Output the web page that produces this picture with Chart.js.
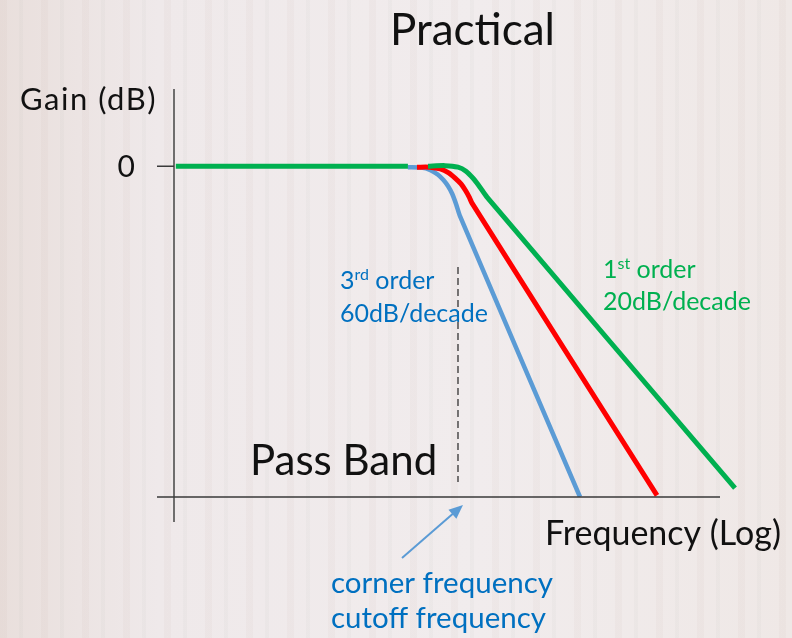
<!DOCTYPE html>
<html>
<head>
<meta charset="utf-8">
<script src="https://cdn.jsdelivr.net/npm/chart.js@4/dist/chart.umd.min.js"></script>
<style>
    html, body { margin: 0; padding: 0; }
    body {
        width: 792px; height: 638px; overflow: hidden;
        background:
            repeating-linear-gradient(90deg, rgba(180,150,140,0.06) 0 7px, rgba(255,255,255,0) 7px 19px, rgba(150,160,150,0.05) 19px 23px, rgba(255,255,255,0) 23px 41px),
            linear-gradient(90deg, #e9dfdc 0%, #efe9ea 20%, #f1eced 60%, #efe8e6 100%);
    }
    #wrap { position: relative; width: 792px; height: 638px; }
</style>
</head>
<body>
<div id="wrap"><canvas id="plot"></canvas></div>
<script>
// frequency relative to the corner (log axis), gain in dB
const cornerFreq = 1;

const firstOrderFreq = [0.0103, 0.444, 0.5, 0.615, 0.81, 1.0, 1.138, 1.275, 1.428, 1.6, 89.3];
const firstOrderGain = [0, 0, null, 0, 0.1, -0.18, -0.9, -2.18, -3.81, -5.62, -58.4];

const secondOrderFreq = [0.514, 0.635, 0.75, 0.86, 0.95, 1.05, 1.13, 1.2, 1.255, 25.2];
const secondOrderGain = [-0.18, -0.18, -0.5, -1.2, -2.1, -3.2, -4.4, -5.6, -6.7, -59.7];

const thirdOrderFreq = [0.444, 0.55, 0.64, 0.72, 0.79, 0.85, 0.91, 0.97, 1.033, 7.23];
const thirdOrderGain = [-0.18, -0.25, -0.7, -1.5, -2.5, -3.6, -5.0, -6.9, -9.07, -60.0];

const gainTicks = [0];

const toPoints = (xs, ys) => xs.map((x, i) => ({ x: x, y: ys[i] }));

const FONT = 'Lato, "Open Sans", sans-serif';
const BLUE_TEXT = '#0070C0';
const GREEN = '#00B050';

// axes, labels and annotations drawn on top of the scales
const slidePlugin = {
    id: 'slide',
    afterDatasetsDraw(chart) {
        const ctx = chart.ctx;
        const area = chart.chartArea;
        const xs = chart.scales.x;
        const ys = chart.scales.y;
        const yAxisX = area.left;
        const xAxisY = area.bottom;
        ctx.save();

        // axis lines
        ctx.strokeStyle = '#3a3a3a';
        ctx.lineWidth = 1.4;
        ctx.beginPath();
        ctx.moveTo(yAxisX, area.top);
        ctx.lineTo(yAxisX, xAxisY + 25);
        ctx.moveTo(yAxisX - 17, xAxisY);
        ctx.lineTo(area.right - 22, xAxisY);
        gainTicks.forEach(t => {
            const py = ys.getPixelForValue(t);
            ctx.moveTo(yAxisX - 17, py);
            ctx.lineTo(yAxisX, py);
        });
        ctx.stroke();

        // corner frequency dashed marker
        const cx = xs.getPixelForValue(cornerFreq);
        ctx.strokeStyle = '#111';
        ctx.lineWidth = 1.1;
        ctx.setLineDash([7, 4]);
        ctx.beginPath();
        ctx.moveTo(cx, 267);
        ctx.lineTo(cx, xAxisY - 15);
        ctx.stroke();
        ctx.setLineDash([]);

        // arrow to corner
        ctx.strokeStyle = '#5B9BD5';
        ctx.fillStyle = '#5B9BD5';
        ctx.lineWidth = 2;
        const ax0 = 402, ay0 = 558, ax1 = cx + 5, ay1 = xAxisY + 8;
        const ang = Math.atan2(ay1 - ay0, ax1 - ax0);
        ctx.beginPath();
        ctx.moveTo(ax0, ay0);
        ctx.lineTo(ax1 - 10 * Math.cos(ang), ay1 - 10 * Math.sin(ang));
        ctx.stroke();
        ctx.beginPath();
        ctx.moveTo(ax1, ay1);
        ctx.lineTo(ax1 - 14 * Math.cos(ang) + 6 * Math.sin(ang), ay1 - 14 * Math.sin(ang) - 6 * Math.cos(ang));
        ctx.lineTo(ax1 - 14 * Math.cos(ang) - 6 * Math.sin(ang), ay1 - 14 * Math.sin(ang) + 6 * Math.cos(ang));
        ctx.closePath();
        ctx.fill();

        // texts
        ctx.textBaseline = 'alphabetic';
        ctx.fillStyle = '#111';
        ctx.textAlign = 'left';
        ctx.font = '44px ' + FONT;
        ctx.fillText('Practical', 390, 45);
        ctx.font = '31px ' + FONT;
        ctx.letterSpacing = '1.5px';
        ctx.fillText('Gain (dB)', 20, 110);
        ctx.letterSpacing = '0px';
        ctx.font = '30px ' + FONT;
        gainTicks.forEach(t => {
            ctx.textAlign = 'right';
            ctx.fillText(String(t), 135, ys.getPixelForValue(t) + 11);
        });
        ctx.textAlign = 'left';
        ctx.font = '42px ' + FONT;
        ctx.fillText('Pass Band', 250, 475);
        ctx.font = '34px ' + FONT;
        ctx.fillText('Frequency (Log)', 545, 545);

        const sup = (base, supTxt, rest, x, y, size, color) => {
            ctx.fillStyle = color;
            ctx.font = size + 'px ' + FONT;
            ctx.fillText(base, x, y);
            let px = x + ctx.measureText(base).width;
            ctx.font = Math.round(size * 0.62) + 'px ' + FONT;
            ctx.fillText(supTxt, px, y - size * 0.35);
            px += ctx.measureText(supTxt).width;
            ctx.font = size + 'px ' + FONT;
            ctx.fillText(rest, px, y);
        };
        sup('3', 'rd', ' order', 340, 289, 25, BLUE_TEXT);
        ctx.fillText('60dB/decade', 340, 322);
        sup('1', 'st', ' order', 603, 278, 25, GREEN);
        ctx.fillText('20dB/decade', 603, 310);

        ctx.fillStyle = BLUE_TEXT;
        ctx.font = '29.5px ' + FONT;
        ctx.fillText('corner frequency', 331, 593);
        ctx.fillText('cutoff frequency', 331, 628);
        ctx.restore();
    }
};

const ctx = document.getElementById('plot').getContext('2d');
const chart = new Chart(ctx, {
    type: 'scatter',
    data: {
        datasets: [
            {
                label: '1st order',
                data: toPoints(firstOrderFreq, firstOrderGain),
                borderColor: GREEN,
                borderWidth: 5,
                showLine: true,
                spanGaps: false,
                pointRadius: 0,
                tension: 0.25
            },
            {
                label: '2nd order',
                data: toPoints(secondOrderFreq, secondOrderGain),
                borderColor: '#FF0000',
                borderWidth: 5,
                showLine: true,
                pointRadius: 0,
                tension: 0.25
            },
            {
                label: '3rd order',
                data: toPoints(thirdOrderFreq, thirdOrderGain),
                borderColor: '#5B9BD5',
                borderWidth: 4.5,
                showLine: true,
                pointRadius: 0,
                tension: 0.25
            }
        ]
    },
    options: {
        responsive: true,
        maintainAspectRatio: false,
        animation: false,
        layout: { padding: { left: 174, right: 50, top: 89, bottom: 141 } },
        scales: {
            x: { type: 'logarithmic', min: 0.01, max: 100, display: false },
            y: { type: 'linear', min: -60, max: 14, display: false }
        },
        plugins: {
            legend: { display: false },
            tooltip: { enabled: false }
        }
    },
    plugins: [slidePlugin]
});
</script>
</body>
</html>
